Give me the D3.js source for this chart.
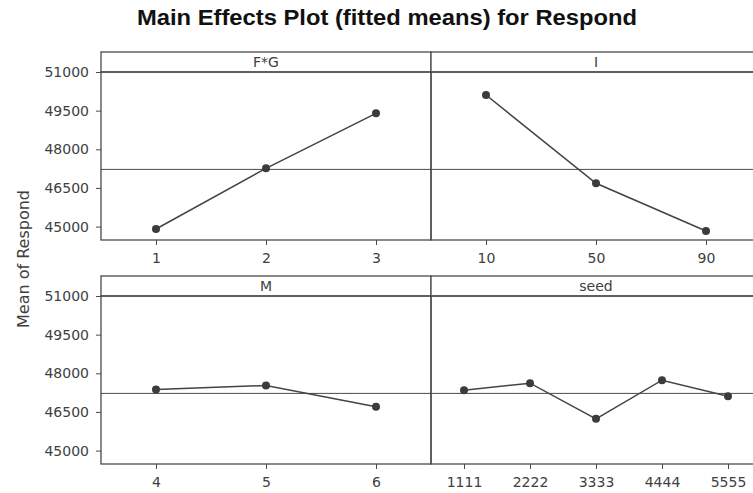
<!DOCTYPE html>
<html>
<head>
<meta charset="utf-8">
<script src="https://cdn.jsdelivr.net/npm/d3@7"></script>
<style>
  body { margin: 0; background: #fff; }
</style>
</head>
<body>
<script>
const factors = ["F*G", "I", "M", "seed"]

const fgLevels = ["1", "2", "3"]
const fgMeans = [44907, 47263, 49397]

const iLevels = ["10", "50", "90"]
const iMeans = [50107, 46680, 44829]

const mLevels = ["4", "5", "6"]
const mMeans = [47371, 47527, 46700]

const seedLevels = ["1111", "2222", "3333", "4444", "5555"]
const seedMeans = [47344, 47616, 46234, 47732, 47111]

const grandMean = 47220
const yTicks = [45000, 46500, 48000, 49500, 51000]

const width = 753
const height = 493

const panels = [
  { name: factors[0], levels: fgLevels, means: fgMeans, col: 0, row: 0 },
  { name: factors[1], levels: iLevels, means: iMeans, col: 1, row: 0 },
  { name: factors[2], levels: mLevels, means: mMeans, col: 0, row: 1 },
  { name: factors[3], levels: seedLevels, means: seedMeans, col: 1, row: 1 },
]

// panel grid
const colX = [101, 431]
const panelW = 330
const rowTop = [52, 276]
const stripH = 20
const plotH = 168

const ink = "#4a4a4a"
const textInk = "#404040"

const svg = d3.select("body")
  .append("svg")
  .attr("width", width)
  .attr("height", height)
  .style("font-family", "'DejaVu Sans', sans-serif")

svg.append("rect")
  .attr("width", width)
  .attr("height", height)
  .attr("fill", "#fff")

// Title
svg.append("text")
  .attr("x", 387)
  .attr("y", 25)
  .attr("text-anchor", "middle")
  .attr("textLength", 500)
  .attr("lengthAdjust", "spacingAndGlyphs")
  .style("font-family", "'Liberation Sans', Arial, sans-serif")
  .style("font-weight", "bold")
  .style("font-size", "22px")
  .attr("fill", "#111")
  .text("Main Effects Plot (fitted means) for Respond")

// Y axis title
svg.append("text")
  .attr("transform", "translate(29,259) rotate(-90)")
  .attr("text-anchor", "middle")
  .style("font-size", "16px")
  .attr("fill", textInk)
  .text("Mean of Respond")

const y = d3.scaleLinear().domain([44480, 51000])

panels.forEach(p => {
  const x0 = colX[p.col]
  const top = rowTop[p.row]
  const plotTop = top + stripH

  const x = d3.scalePoint()
    .domain(p.levels)
    .range([x0, x0 + panelW])
    .padding(0.5)

  const yp = y.copy().range([plotTop + plotH, plotTop])

  const g = svg.append("g")

  // strip
  g.append("rect")
    .attr("x", x0)
    .attr("y", top)
    .attr("width", panelW)
    .attr("height", stripH)
    .attr("fill", "#fff")
    .attr("stroke", ink)
    .attr("stroke-width", 1.3)

  g.append("text")
    .attr("x", x0 + panelW / 2)
    .attr("y", top + stripH / 2 + 5)
    .attr("text-anchor", "middle")
    .style("font-size", "14px")
    .attr("fill", textInk)
    .text(p.name)

  // plot frame
  g.append("rect")
    .attr("x", x0)
    .attr("y", plotTop)
    .attr("width", panelW)
    .attr("height", plotH)
    .attr("fill", "none")
    .attr("stroke", ink)
    .attr("stroke-width", 1.3)

  // grand mean reference line
  g.append("line")
    .attr("x1", x0)
    .attr("x2", x0 + panelW)
    .attr("y1", yp(grandMean))
    .attr("y2", yp(grandMean))
    .attr("stroke", ink)
    .attr("stroke-width", 1)

  // x axis
  const xAxis = g.append("g")
    .attr("transform", `translate(0,${plotTop + plotH})`)
    .call(d3.axisBottom(x).tickSize(5).tickPadding(8))
  xAxis.select(".domain").remove()
  xAxis.selectAll("line").attr("stroke", ink)
  xAxis.selectAll("text")
    .style("font-size", "14px")
    .style("font-family", "'DejaVu Sans', sans-serif")
    .attr("fill", textInk)

  // y axis only on the left column
  if (p.col === 0) {
    const yAxis = g.append("g")
      .attr("transform", `translate(${x0},0)`)
      .call(d3.axisLeft(yp).tickValues(yTicks).tickFormat(d3.format("d")).tickSize(5).tickPadding(7))
    yAxis.select(".domain").remove()
    yAxis.selectAll("line").attr("stroke", ink)
    yAxis.selectAll("text")
      .style("font-size", "14px")
      .style("font-family", "'DejaVu Sans', sans-serif")
      .attr("fill", textInk)
  }

  const pts = p.levels.map((l, i) => ({ level: l, value: p.means[i] }))

  g.append("path")
    .datum(pts)
    .attr("fill", "none")
    .attr("stroke", "#444")
    .attr("stroke-width", 1.5)
    .attr("d", d3.line().x(d => x(d.level)).y(d => yp(d.value)))

  g.selectAll("circle")
    .data(pts)
    .enter()
    .append("circle")
    .attr("cx", d => x(d.level))
    .attr("cy", d => yp(d.value))
    .attr("r", 4)
    .attr("fill", "#3c3c3c")
})
</script>
</body>
</html>
